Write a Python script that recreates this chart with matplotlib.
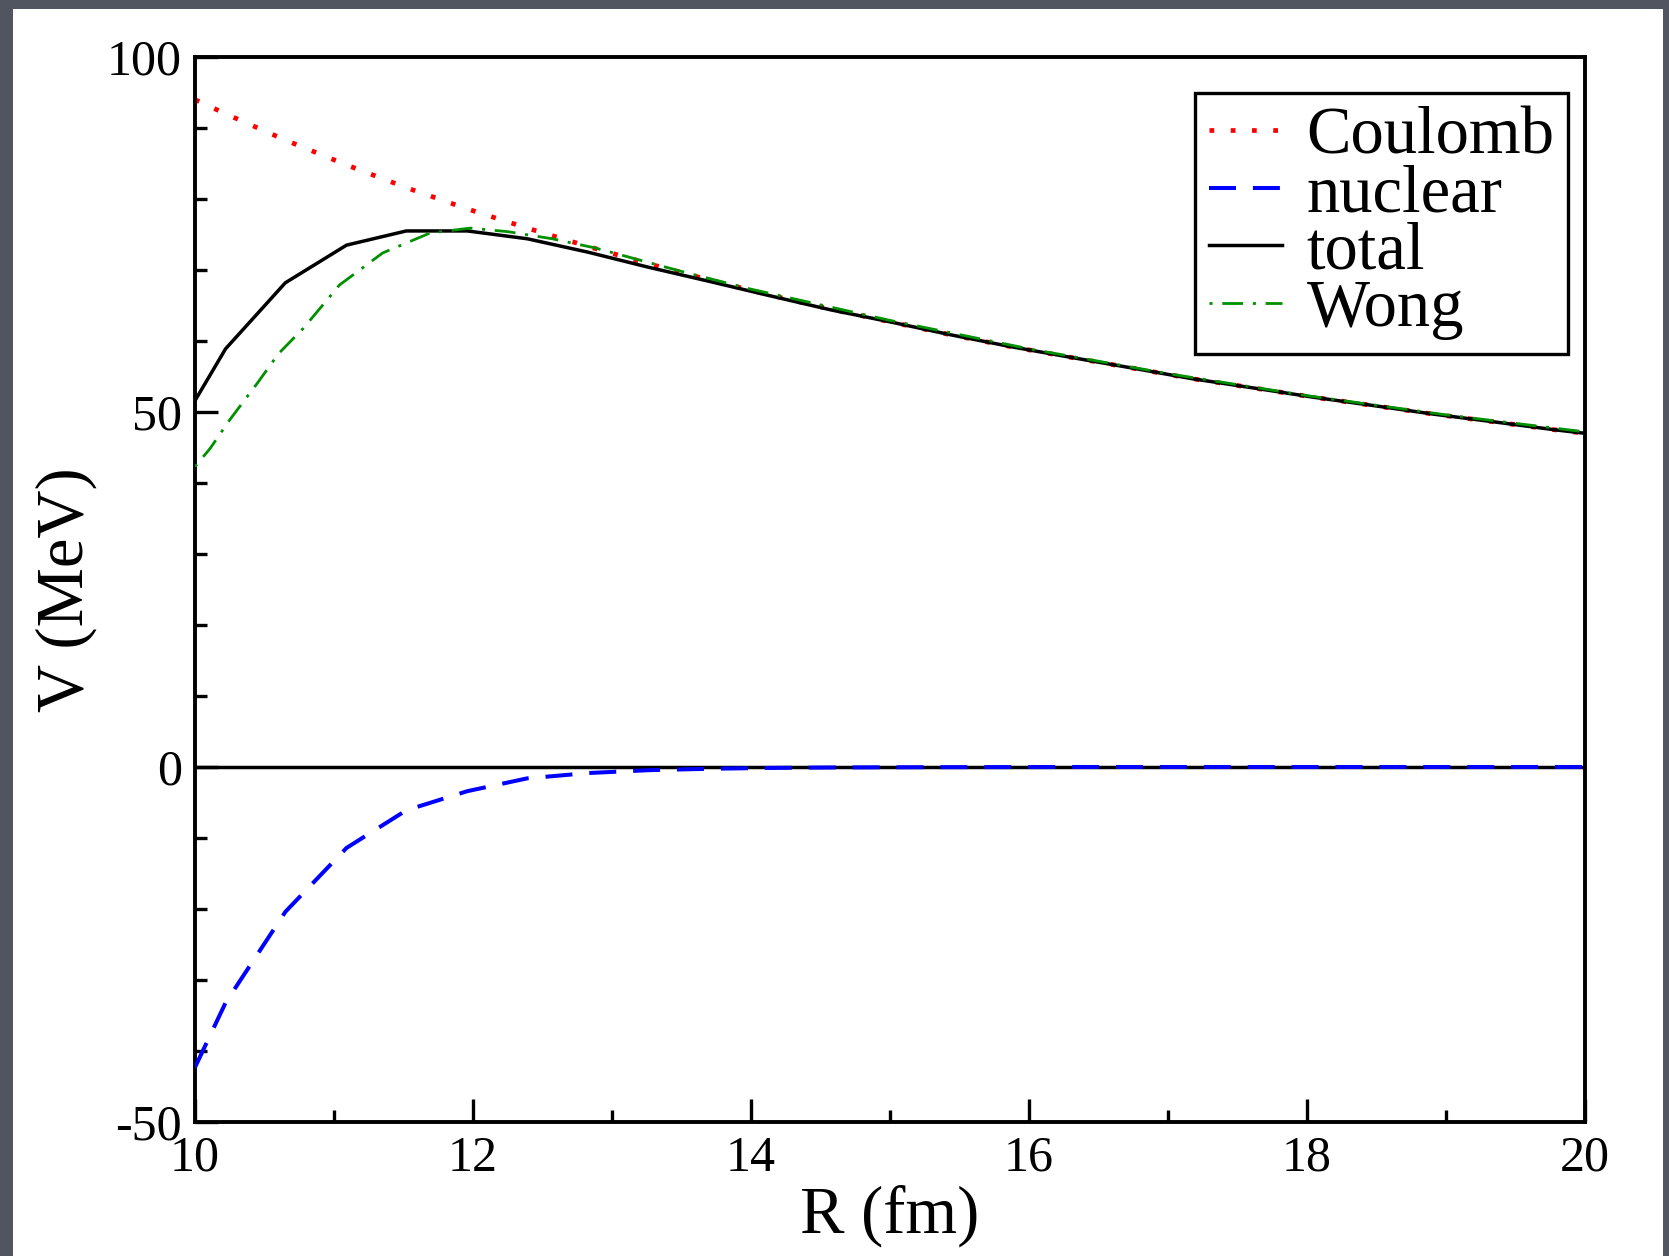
"""Coulomb, nuclear and total potential vs. distance, with the Wong approximation."""

import matplotlib

matplotlib.use("Agg")
import matplotlib.pyplot as plt
from matplotlib.patches import Rectangle
from matplotlib.ticker import MultipleLocator

# R grid (fm) of the computed curves
r_fm = [10.0, 10.22, 10.65, 11.09, 11.52, 11.96, 12.39, 12.83, 13.26, 13.70,
        14.13, 14.57, 15.00, 15.43, 15.87, 16.30, 16.74, 17.17, 17.61, 18.04,
        18.48, 18.91, 19.35, 19.78, 20.0]

v_coulomb = [94.0, 92.0, 88.3, 84.8, 81.6, 78.6, 75.9, 73.3, 70.9, 68.6,
             66.5, 64.5, 62.7, 60.9, 59.2, 57.7, 56.2, 54.7, 53.4, 52.1,
             50.9, 49.7, 48.6, 47.5, 47.0]

v_nuclear = [-42.3, -33.2, -20.4, -11.4, -6.1, -3.4, -1.6, -0.85, -0.45, -0.25,
             -0.13, -0.07, -0.04, -0.02, -0.01, 0.0, 0.0, 0.0, 0.0, 0.0,
             0.0, 0.0, 0.0, 0.0, 0.0]

v_total = [51.6, 58.9, 68.2, 73.5, 75.5, 75.5, 74.4, 72.5, 70.4, 68.4,
           66.4, 64.4, 62.7, 60.9, 59.2, 57.7, 56.2, 54.7, 53.4, 52.1,
           50.9, 49.7, 48.6, 47.5, 47.0]

# Wong formula is sampled more finely
r_wong = [10.0, 10.11, 10.25, 10.45, 10.60, 10.78, 11.04, 11.35, 11.69, 11.98,
          12.25, 12.57, 12.88, 13.50, 14.0, 15.0, 16.0, 17.0, 18.0, 19.0, 20.0]
v_wong = [42.3, 44.9, 48.9, 54.1, 58.2, 61.8, 67.9, 72.4, 75.2, 75.9,
          75.4, 74.4, 73.1, 69.8, 67.3, 62.9, 58.9, 55.4, 52.3, 49.6, 47.2]

x_ticks = [10, 12, 14, 16, 18, 20]
y_ticks = [-50, 0, 50, 100]

W, H = 1669, 1256

plt.rcParams["font.family"] = ["Liberation Serif", "DejaVu Serif"]
plt.rcParams["axes.unicode_minus"] = False

fig = plt.figure(figsize=(W / 100, H / 100), dpi=100)
fig.patch.set_facecolor("#50555f")
fig.add_artist(Rectangle((13 / W, 0), (1663 - 13) / W, (H - 9) / H,
                         transform=fig.transFigure, facecolor="white",
                         edgecolor="none", zorder=0))

ax = fig.add_axes([195 / W, 1 - 1122 / H, 1390 / W, 1065 / H])

ax.axhline(0, color="black", lw=2.5, zorder=1)
ax.plot(r_fm, v_coulomb, color="red", lw=3.4, ls=(0, (1.0, 3.5)),
        dash_capstyle="butt", label="Coulomb", zorder=2)
ax.plot(r_fm, v_nuclear, color="blue", lw=2.9, ls=(0, (6.7, 4.2)),
        label="nuclear", zorder=3)
ax.plot(r_fm, v_total, color="black", lw=2.5, label="total", zorder=4)
ax.plot(r_wong, v_wong, color="#009000", lw=2.0, ls=(0, (1.1, 3.5, 7.5, 3.5)),
        label="Wong", zorder=5)

ax.set_xlim(10, 20)
ax.set_ylim(-50, 100)
ax.set_xticks(x_ticks)
ax.set_yticks(y_ticks)
ax.xaxis.set_minor_locator(MultipleLocator(1))
ax.yaxis.set_minor_locator(MultipleLocator(10))
ax.tick_params(which="both", direction="in", top=False, right=False,
               width=2.4, labelsize=36, pad=9.4)
ax.tick_params(which="major", length=16.5)
ax.tick_params(which="minor", length=8.6)
for s in ax.spines.values():
    s.set_linewidth(2.8)

ax.set_xlabel("R (fm)", fontsize=48)
ax.set_ylabel("V (MeV)", fontsize=48)
ax.xaxis.set_label_coords(0.5, (1122 - 1185) / 1065)
ax.yaxis.set_label_coords((97 - 195) / 1390, 0.5)

leg = ax.legend(loc="upper right", bbox_to_anchor=(1568 / W, 1 - 93 / H),
                bbox_transform=fig.transFigure, fontsize=48, frameon=True,
                fancybox=False, framealpha=1, edgecolor="black",
                borderaxespad=0, borderpad=0.2, labelspacing=-0.05,
                handlelength=1.1, handletextpad=0.37)
leg.get_frame().set_linewidth(2.4)

fig.savefig("out.png", dpi=100, facecolor=fig.get_facecolor())
